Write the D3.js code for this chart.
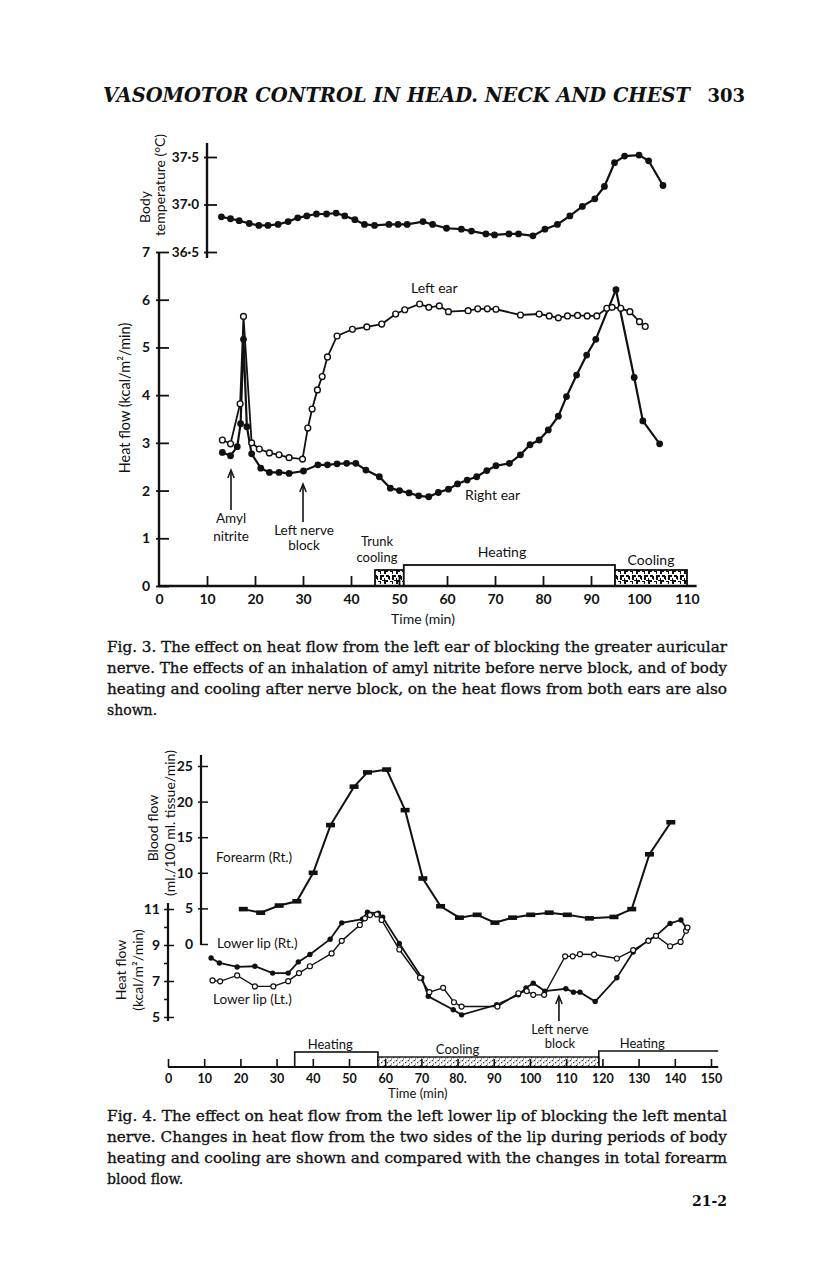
<!DOCTYPE html>
<html><head><meta charset="utf-8">
<script src="https://cdn.jsdelivr.net/npm/d3@7/dist/d3.min.js"></script>
<style>body{margin:0;background:#fff}svg{display:block}</style>
</head><body>
<script>
// ---------------- DATA ----------------
// Fig. 3 – body temperature (°C)
const tempTimes = [13,14.9,16.7,18.8,20.8,22.7,24.8,26.9,28.9,30.8,32.8,34.9,36.9,38.7,40.8,42.8,44.9,47.9,49.8,51.7,55,57,59.9,63,65.1,68.1,69.9,72.9,74.9,77.9,80.4,83,85.6,88.2,90.8,92.8,94.9,97,100,102,105];
const tempValues = [36.87,36.85,36.83,36.80,36.78,36.78,36.79,36.82,36.86,36.88,36.90,36.90,36.91,36.88,36.84,36.79,36.78,36.79,36.79,36.79,36.82,36.79,36.75,36.74,36.72,36.69,36.68,36.69,36.69,36.67,36.74,36.79,36.88,36.98,37.06,37.19,37.44,37.51,37.52,37.46,37.20];
// Fig. 3 – heat flow, left ear (open circles)
const leftEarTimes = [13.2,14.9,16.9,17.6,19.3,20.9,23,25,27.1,29.9,31,31.9,33,34,35.1,37.1,40.3,43.3,46.4,49.3,51.2,54.3,56.2,58.4,60.3,64.4,66.4,68.4,70.2,75.3,79.2,81.3,83.2,85.1,87.2,89.2,91.2,93.3,94.4,96.2,98.1,100.1,101.3];
const leftEarValues = [3.06,2.98,3.82,5.65,3.0,2.87,2.79,2.75,2.69,2.66,3.31,3.71,4.11,4.39,4.8,5.24,5.38,5.43,5.49,5.7,5.79,5.91,5.84,5.87,5.75,5.77,5.81,5.81,5.8,5.68,5.7,5.66,5.62,5.66,5.67,5.66,5.66,5.82,5.84,5.82,5.75,5.54,5.44];
// Fig. 3 – heat flow, right ear (filled circles)
const rightEarTimes = [13.2,14.9,16.3,17,17.6,18.3,19.3,21.2,23,25,27.1,30.1,33.1,35.1,37.1,39.1,41,43.1,45.9,48.2,50.1,52.1,54.1,56.2,58.2,60.3,62.2,64.2,66.2,68.3,70.2,73,75.3,77.3,79.2,81.1,83.2,84.9,87,89.1,91,95.2,99,100.8,104.3];
const rightEarValues = [2.8,2.73,2.92,3.4,5.17,3.34,2.77,2.47,2.38,2.38,2.36,2.41,2.54,2.54,2.56,2.57,2.57,2.43,2.29,2.05,2.0,1.95,1.89,1.87,1.96,2.03,2.14,2.22,2.29,2.42,2.52,2.57,2.75,2.96,3.06,3.27,3.56,3.97,4.42,4.84,5.17,6.21,4.37,3.46,2.98];
// Fig. 3 – periods
const periodStarts3 = [45,51,95];
const periodEnds3 = [51,95,110];
const periodKinds3 = ["cool","heat","cool"];
// Fig. 3 – ticks
const fig3XTicks = [0,10,20,30,40,50,60,70,80,90,100,110];
const fig3XTickLabels = ["0","10","20","30","40","50","60","70","80","90","100","110"];
const fig3HeatTicks = [0,1,2,3,4,5,6,7];
const fig3HeatTickLabels = ["0","1","2","3","4","5","6","7"];
const fig3TempTicks = [36.5,37.0,37.5];
const fig3TempTickLabels = ["36·5","37·0","37·5"];

// Fig. 4 – forearm blood flow (ml./100 ml. tissue/min)
const forearmTimes = [20.8,25.6,30.7,35.6,40.1,44.9,51.4,55.1,60.4,65.5,70.4,75.3,80.5,85.4,90.3,95.2,100.2,105.3,110.3,116.4,123.2,128.1,133,138.9];
const forearmValues = [4.9,4.4,5.4,6.0,10.0,16.7,22.1,24.1,24.5,18.8,9.2,5.3,3.7,4.1,3.0,3.7,4.1,4.4,4.1,3.6,3.8,4.9,12.6,17.1];
// Fig. 4 – heat flow, lower lip right (filled)
const rtLipTimes = [11.9,14.2,19.1,24.0,28.9,33.2,36.0,39.2,44.8,48.0,53.7,55.1,58.1,59.3,63.9,70.1,71.9,78.8,81.1,90.8,96.8,98.9,100.9,104.1,109.9,112.0,113.8,118.0,124.0,128.5,132.7,134.8,138.7,141.7,143.3];
const rtLipValues = [8.28,8.0,7.78,7.82,7.44,7.44,8.06,8.47,9.32,10.23,10.44,10.82,10.76,10.54,9.08,7.18,6.15,5.4,5.12,5.68,6.23,6.62,6.88,6.44,6.57,6.38,6.38,5.86,7.18,8.61,9.27,9.51,10.2,10.39,9.92];
// Fig. 4 – heat flow, lower lip left (open)
const ltLipTimes = [12.3,14.4,19.1,24.0,29.1,33.2,36.2,39.2,45.2,48.0,53.0,54.4,55.8,57.7,59.0,63.9,69.6,72.2,76.0,79.0,81.1,91.0,96.8,99.1,100.9,103.9,109.7,111.8,113.8,117.7,124.0,128.5,132.7,134.8,138.7,141.6,143.1,143.5];
const ltLipValues = [7.03,6.98,7.31,6.70,6.70,6.99,7.44,7.82,8.53,9.23,10.11,10.48,10.66,10.7,10.39,8.75,7.18,6.38,6.62,5.82,5.58,5.58,6.32,6.44,6.23,6.23,8.37,8.37,8.49,8.47,8.25,8.72,9.23,9.51,8.93,9.17,9.79,9.97];
// Fig. 4 – periods
const periodStarts4 = [35,58,119];
const periodEnds4 = [58,119,152];
const periodKinds4 = ["heat","cool","heatOpen"];
// Fig. 4 – ticks
const fig4XTicks = [0,10,20,30,40,50,60,70,80,90,100,110,120,130,140,150];
const fig4XTickLabels = ["0","10","20","30","40","50","60","70","80.","90","100","110","120","130","140","150"];
const fig4BloodTicks = [0,5,10,15,20,25];
const fig4BloodTickLabels = ["0","5","10","15","20","25"];
const fig4HeatTicks = [5,6,7,8,9,10,11];
const fig4HeatTickLabels = ["5","","7","","9","","11"];

// ---------------- DRAWING ----------------
const SANS = "Lato, 'Open Sans', sans-serif";
const SERIF = "'DejaVu Serif', serif";
const INK = "#111";

const svg = d3.select("body").append("svg").attr("width",816).attr("height",1272);
const defs = svg.append("defs");
const pm = defs.append("pattern").attr("id","mottle").attr("patternUnits","userSpaceOnUse").attr("width",12).attr("height",10);
pm.append("rect").attr("width",12).attr("height",10).attr("fill","#fff");
pm.append("path").attr("fill",INK).attr("d","M0 0h4v2h-2v2h-2z M6 1h3v3h-1v-2h-2z M2 5h3v1h1v3h-2v-2h-2z M8 5h4v2h-2v3h-2z M0 8h1v2h-1z M10 0h2v1h-2z M5 8h1v2h-1z");
const ps = defs.append("pattern").attr("id","stipple").attr("patternUnits","userSpaceOnUse").attr("width",6).attr("height",5);
ps.append("rect").attr("width",6).attr("height",5).attr("fill","#fff");
ps.append("path").attr("fill","#333").attr("d","M0 0h1.3v1.3h-1.3z M3 2h1.3v1.3h-1.3z M1 3.5h1v1h-1z M4.5 0.5h1v1h-1z");

function txt(g, x, y, s, opt = {}) {
  const t = g.append("text").attr("x", x).attr("y", y).text(s)
    .attr("font-family", opt.family || SANS)
    .attr("font-size", opt.size || 14)
    .attr("font-weight", opt.weight || "normal")
    .attr("fill", INK)
    .attr("text-anchor", opt.anchor || "start");
  if (opt.italic) t.attr("font-style", "italic");
  return t;
}
function vtxt(g, cx, cy, s, size) {
  return g.append("text").attr("transform", `translate(${cx},${cy}) rotate(-90)`)
    .attr("text-anchor","middle").attr("dy","0.36em")
    .attr("font-family",SANS).attr("font-size",size).attr("fill",INK).text(s);
}
function arrow(g, x, yTip, yTail) {
  g.append("line").attr("x1",x).attr("x2",x).attr("y1",yTip+2).attr("y2",yTail).attr("stroke",INK).attr("stroke-width",1.6);
  g.append("path").attr("d",`M${x-3.2},${yTip+8} L${x},${yTip} L${x+3.2},${yTip+8}`).attr("fill","none").attr("stroke",INK).attr("stroke-width",1.5);
}

// Header
txt(svg, 103, 102, "VASOMOTOR CONTROL IN HEAD. NECK AND CHEST", {family:SERIF, size:19.5, weight:"bold", italic:true})
  .attr("textLength",587).attr("lengthAdjust","spacingAndGlyphs");
txt(svg, 745, 102, "303", {family:SERIF, size:18, weight:"bold", anchor:"end"});

// ===== Fig. 3 =====
const g3 = svg.append("g");
const x3 = d3.scaleLinear().domain([0,110]).range([159,687]);
const yH3 = d3.scaleLinear().domain([0,7]).range([586,252]);
const yT3 = d3.scaleLinear().domain([36.5,37.5]).range([252,157]);

periodStarts3.forEach((s,i) => {
  const kind = periodKinds3[i];
  const top = kind === "heat" ? 565 : 570;
  g3.append("rect").attr("x", x3(s)).attr("y", top).attr("width", x3(periodEnds3[i]) - x3(s)).attr("height", 586 - top)
    .attr("fill", kind === "heat" ? "#fff" : "url(#mottle)").attr("stroke", INK).attr("stroke-width", 1.8);
});

const xa3 = g3.append("g").attr("transform","translate(0,586)")
  .call(d3.axisBottom(x3).tickValues(fig3XTicks).tickFormat((d,i)=>fig3XTickLabels[i]).tickSize(-10).tickPadding(8).tickSizeOuter(0));
xa3.select(".domain").remove();
xa3.selectAll(".tick line").attr("stroke",INK).attr("stroke-width",1.8).filter(d=>d===0||d>=100).remove();
xa3.selectAll(".tick text").attr("font-family",SANS).attr("font-size",14).attr("font-weight","bold").attr("fill",INK);
g3.append("line").attr("x1",x3(0)).attr("x2",x3(112)).attr("y1",586).attr("y2",586).attr("stroke",INK).attr("stroke-width",2.4);
txt(g3, x3(55), 624, "Time (min)", {size:14, anchor:"middle"});

const ya3 = g3.append("g").attr("transform",`translate(${x3(0)},0)`)
  .call(d3.axisLeft(yH3).tickValues(fig3HeatTicks).tickFormat((d,i)=>fig3HeatTickLabels[i]).tickSize(-10).tickPadding(6).tickSizeOuter(0));
ya3.select(".domain").remove();
ya3.selectAll(".tick line").attr("stroke",INK).attr("stroke-width",1.8).attr("x1",-3);
ya3.selectAll(".tick text").attr("font-family",SANS).attr("font-size",14).attr("font-weight","bold").attr("fill",INK).attr("x",-9);
g3.append("line").attr("x1",x3(0)).attr("x2",x3(0)).attr("y1",yH3(7)).attr("y2",587).attr("stroke",INK).attr("stroke-width",2.4);
vtxt(g3, 125, 398, "Heat flow (kcal/m²/min)", 14.5);

const ta3 = g3.append("g").attr("transform",`translate(${x3(10)},0)`)
  .call(d3.axisLeft(yT3).tickValues(fig3TempTicks).tickFormat((d,i)=>fig3TempTickLabels[i]).tickSize(-10).tickPadding(6).tickSizeOuter(0));
ta3.select(".domain").remove();
ta3.selectAll(".tick line").attr("stroke",INK).attr("stroke-width",1.8).attr("x1",-3);
ta3.selectAll(".tick text").attr("font-family",SANS).attr("font-size",13.5).attr("font-weight","bold").attr("fill",INK).attr("x",-8);
g3.append("line").attr("x1",x3(10)).attr("x2",x3(10)).attr("y1",143).attr("y2",258).attr("stroke",INK).attr("stroke-width",2.4);
vtxt(g3, 145, 207, "Body", 14);
vtxt(g3, 160, 185, "temperature (°C)", 14);

const tempData = d3.zip(tempTimes, tempValues);
const leftEar = d3.zip(leftEarTimes, leftEarValues);
const rightEar = d3.zip(rightEarTimes, rightEarValues);
const lineT = d3.line().x(d=>x3(d[0])).y(d=>yT3(d[1]));
const lineH3 = d3.line().x(d=>x3(d[0])).y(d=>yH3(d[1]));
g3.append("path").attr("d",lineT(tempData)).attr("fill","none").attr("stroke",INK).attr("stroke-width",2.2);
g3.selectAll(".tp").data(tempData).join("circle").attr("cx",d=>x3(d[0])).attr("cy",d=>yT3(d[1])).attr("r",3.4).attr("fill",INK);
g3.append("path").attr("d",lineH3(rightEar)).attr("fill","none").attr("stroke",INK).attr("stroke-width",2.2);
g3.append("path").attr("d",lineH3(leftEar)).attr("fill","none").attr("stroke",INK).attr("stroke-width",1.8);
g3.selectAll(".rp").data(rightEar).join("circle").attr("cx",d=>x3(d[0])).attr("cy",d=>yH3(d[1])).attr("r",3.4).attr("fill",INK);
g3.selectAll(".lp").data(leftEar).join("circle").attr("cx",d=>x3(d[0])).attr("cy",d=>yH3(d[1])).attr("r",2.9).attr("fill","#fff").attr("stroke",INK).attr("stroke-width",1.4);

txt(g3, 411, 293, "Left ear", {size:14});
txt(g3, 465, 500, "Right ear", {size:14});
arrow(g3, x3(15), 470, 510);
txt(g3, x3(15), 523, "Amyl", {size:13.5, anchor:"middle"});
txt(g3, x3(15), 541, "nitrite", {size:13.5, anchor:"middle"});
arrow(g3, x3(30), 484, 522);
txt(g3, x3(30)+1, 535, "Left nerve", {size:13.5, anchor:"middle"});
txt(g3, x3(30)+1, 550, "block", {size:13.5, anchor:"middle"});
txt(g3, 377, 546, "Trunk", {size:13, anchor:"middle"});
txt(g3, 377, 562, "cooling", {size:13, anchor:"middle"});
txt(g3, 502, 557, "Heating", {size:14, anchor:"middle"});
txt(g3, 651, 565, "Cooling", {size:14, anchor:"middle"});

const cap3 = ["Fig. 3.  The effect on heat flow from the left ear of blocking the greater auricular",
  "nerve. The effects of an inhalation of amyl nitrite before nerve block, and of body",
  "heating and cooling after nerve block, on the heat flows from both ears are also",
  "shown."];
cap3.forEach((s,i)=>{
  const t = txt(svg, 107, 652 + i*21, s, {family:SERIF, size:14}).attr("stroke",INK).attr("stroke-width",0.3);
  if (i < cap3.length-1) t.attr("textLength",620).attr("lengthAdjust","spacingAndGlyphs");
});

// ===== Fig. 4 =====
const g4 = svg.append("g");
const x4 = d3.scaleLinear().domain([0,150]).range([168,711]);
const yBF = d3.scaleLinear().domain([0,25]).range([944,766]);
const yH4 = d3.scaleLinear().domain([5,11]).range([1017,909]);
const base4 = 1067;

periodStarts4.forEach((s,i) => {
  const kind = periodKinds4[i];
  const x0 = x4(s), x1 = x4(periodEnds4[i]);
  if (kind === "cool") {
    g4.append("rect").attr("x",x0).attr("y",base4-10).attr("width",x1-x0).attr("height",10)
      .attr("fill","url(#stipple)").attr("stroke",INK).attr("stroke-width",1.4);
  } else if (kind === "heat") {
    g4.append("rect").attr("x",x0).attr("y",base4-15).attr("width",x1-x0).attr("height",15)
      .attr("fill","#fff").attr("stroke",INK).attr("stroke-width",1.6);
  } else {
    g4.append("path").attr("d",`M${x0},${base4} V${base4-16} H${x1}`).attr("fill","none").attr("stroke",INK).attr("stroke-width",1.6);
  }
});

const xa4 = g4.append("g").attr("transform",`translate(0,${base4})`)
  .call(d3.axisBottom(x4).tickValues(fig4XTicks).tickFormat((d,i)=>fig4XTickLabels[i]).tickSize(-8).tickPadding(7).tickSizeOuter(0));
xa4.select(".domain").remove();
xa4.selectAll(".tick line").attr("stroke",INK).attr("stroke-width",1.6);
xa4.selectAll(".tick text").attr("font-family",SANS).attr("font-size",12.5).attr("font-weight","bold").attr("fill",INK);
g4.append("line").attr("x1",x4(0)).attr("x2",x4(152)).attr("y1",base4).attr("y2",base4).attr("stroke",INK).attr("stroke-width",2.2);
txt(g4, x4(69), base4+31, "Time (min)", {size:13, anchor:"middle"});

const ha4 = g4.append("g").attr("transform",`translate(${x4(0)},0)`)
  .call(d3.axisLeft(yH4).tickValues(fig4HeatTicks).tickFormat((d,i)=>fig4HeatTickLabels[i]).tickSize(4).tickPadding(6).tickSizeOuter(0));
ha4.select(".domain").remove();
ha4.selectAll(".tick line").attr("stroke",INK).attr("stroke-width",1.5).attr("x2",-4).attr("x1",(d,i)=>fig4HeatTickLabels[i] ? 6 : 0);
ha4.selectAll(".tick text").attr("font-family",SANS).attr("font-size",14).attr("font-weight","bold").attr("fill",INK).attr("x",-8);
g4.append("line").attr("x1",x4(0)).attr("x2",x4(0)).attr("y1",903).attr("y2",1021).attr("stroke",INK).attr("stroke-width",2.2);
vtxt(g4, 121, 970, "Heat flow", 14);
vtxt(g4, 138, 970, "(kcal/m²/min)", 14);

const bx = 201;
const ba4 = g4.append("g").attr("transform",`translate(${bx},0)`)
  .call(d3.axisLeft(yBF).tickValues(fig4BloodTicks).tickFormat((d,i)=>fig4BloodTickLabels[i]).tickSize(-7).tickPadding(6).tickSizeOuter(0));
ba4.select(".domain").remove();
ba4.selectAll(".tick line").attr("stroke",INK).attr("stroke-width",1.5).attr("x1",d=>d===0?0:-3);
ba4.selectAll(".tick text").attr("font-family",SANS).attr("font-size",14).attr("font-weight","bold").attr("fill",INK).attr("x",-8);
g4.append("line").attr("x1",bx).attr("x2",bx).attr("y1",755).attr("y2",yBF(0)+1).attr("stroke",INK).attr("stroke-width",2.2);
vtxt(g4, 153, 828, "Blood flow", 14);
vtxt(g4, 170, 823, "(ml./100 ml. tissue/min)", 14);

const forearm = d3.zip(forearmTimes, forearmValues);
const rtLip = d3.zip(rtLipTimes, rtLipValues);
const ltLip = d3.zip(ltLipTimes, ltLipValues);
const lineBF = d3.line().x(d=>x4(d[0])).y(d=>yBF(d[1]));
const lineH4 = d3.line().x(d=>x4(d[0])).y(d=>yH4(d[1]));
g4.append("path").attr("d",lineBF(forearm)).attr("fill","none").attr("stroke",INK).attr("stroke-width",2);
g4.selectAll(".fb").data(forearm).join("rect").attr("x",d=>x4(d[0])-4.5).attr("y",d=>yBF(d[1])-2.3).attr("width",9).attr("height",4.6).attr("fill",INK);
g4.append("path").attr("d",lineH4(rtLip)).attr("fill","none").attr("stroke",INK).attr("stroke-width",1.8);
g4.append("path").attr("d",lineH4(ltLip)).attr("fill","none").attr("stroke",INK).attr("stroke-width",1.4);
g4.selectAll(".rl").data(rtLip).join("circle").attr("cx",d=>x4(d[0])).attr("cy",d=>yH4(d[1])).attr("r",2.7).attr("fill",INK);
g4.selectAll(".ll").data(ltLip).join("circle").attr("cx",d=>x4(d[0])).attr("cy",d=>yH4(d[1])).attr("r",2.5).attr("fill","#fff").attr("stroke",INK).attr("stroke-width",1.2);

txt(g4, 216, 862, "Forearm (Rt.)", {size:13.5});
txt(g4, 217, 948, "Lower lip (Rt.)", {size:13.5});
txt(g4, 213, 1004, "Lower lip (Lt.)", {size:13.5});
arrow(g4, x4(108), 996, 1021);
txt(g4, x4(108)+1, 1034, "Left nerve", {size:13, anchor:"middle"});
txt(g4, x4(108)+1, 1048, "block", {size:13, anchor:"middle"});
txt(g4, x4(44.8), 1049, "Heating", {size:13, anchor:"middle"});
txt(g4, x4(80), 1054, "Cooling", {size:13, anchor:"middle"});
txt(g4, x4(131), 1048, "Heating", {size:13, anchor:"middle"});

const cap4 = ["Fig. 4.  The effect on heat flow from the left lower lip of blocking the left mental",
  "nerve.  Changes in heat flow from the two sides of the lip during periods of body",
  "heating and cooling are shown and compared with the changes in total forearm",
  "blood flow."];
cap4.forEach((s,i)=>{
  const t = txt(svg, 107, 1121 + i*21, s, {family:SERIF, size:14}).attr("stroke",INK).attr("stroke-width",0.3);
  if (i < cap4.length-1) t.attr("textLength",620).attr("lengthAdjust","spacingAndGlyphs");
});
txt(svg, 727, 1206, "21-2", {family:SERIF, size:14, weight:"bold", anchor:"end"});
</script>
</body></html>
